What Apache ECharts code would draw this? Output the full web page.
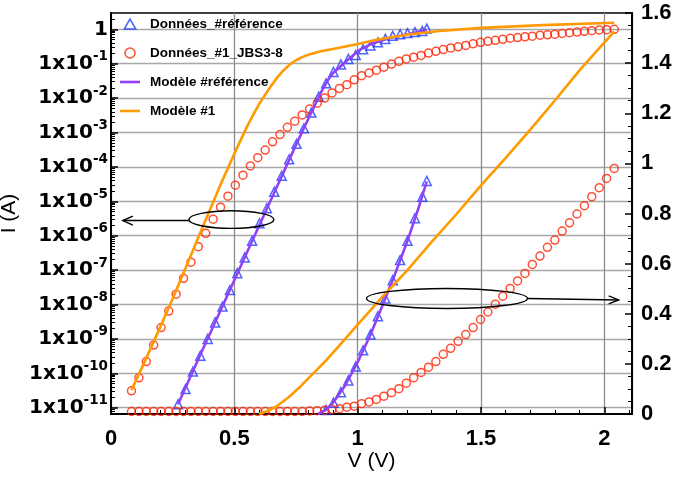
<!DOCTYPE html>
<html><head><meta charset="utf-8">
<script src="https://cdn.jsdelivr.net/npm/echarts@6/dist/echarts.min.js"></script>
<style>html,body{margin:0;padding:0;background:#fff}#c{width:676px;height:479px}</style>
</head><body><div id="c"></div>
<script>
// ---------- data (V in volts, I in amperes) ----------
const seriesNames = ['Données_#référence', 'Données_#1_JBS3-8', 'Modèle #référence', 'Modèle #1'];

// Données_#référence — log plot (left axis)
const refV = [0.272,0.302,0.332,0.362,0.392,0.422,0.452,0.482,0.512,0.542,0.572,0.602,0.632,0.662,0.692,0.722,0.752,0.782,0.812,0.842,0.872,0.902,0.932,0.962,0.992,1.022,1.052,1.082,1.112,1.142,1.172,1.202,1.232,1.262,1.280];
const refI = [1.26e-11,3.47e-11,1.12e-10,3.24e-10,1.0e-9,3.02e-9,8.71e-9,2.63e-8,8.13e-8,2.34e-7,7.08e-7,2.29e-6,6.31e-6,1.91e-5,5.50e-5,1.66e-4,4.68e-4,1.32e-3,3.80e-3,1.10e-2,2.69e-2,5.75e-2,9.55e-2,0.138,0.178,0.263,0.339,0.417,0.525,0.646,0.724,0.776,0.832,0.891,1.05];
// Données_#référence — linear plot (right axis)
const refLinV = [0.872,0.902,0.932,0.962,0.992,1.022,1.052,1.082,1.112,1.142,1.172,1.202,1.232,1.262,1.280];
const refLinI = [0.016,0.045,0.087,0.134,0.190,0.254,0.317,0.390,0.461,0.534,0.614,0.691,0.781,0.867,0.930];

// Données_#1_JBS3-8
const jbsV = [0.083,0.113,0.143,0.173,0.203,0.234,0.264,0.294,0.324,0.354,0.384,0.414,0.444,0.474,0.504,0.535,0.565,0.595,0.625,0.655,0.685,0.715,0.745,0.775,0.805,0.836,0.866,0.896,0.926,0.956,0.986,1.016,1.046,1.076,1.106,1.137,1.167,1.197,1.227,1.257,1.287,1.317,1.347,1.377,1.407,1.438,1.468,1.498,1.528,1.558,1.588,1.618,1.648,1.678,1.708,1.739,1.769,1.799,1.829,1.859,1.889,1.919,1.949,1.979,2.009,2.040];
const jbsI = [3.09e-11,7.41e-11,2.19e-10,6.61e-10,2.14e-9,6.46e-9,2.00e-8,5.75e-8,1.70e-7,4.79e-7,1.17e-6,3.02e-6,6.76e-6,1.41e-5,2.95e-5,5.75e-5,1.07e-4,1.86e-4,3.09e-4,5.37e-4,8.71e-4,1.41e-3,2.14e-3,3.24e-3,4.79e-3,7.08e-3,1.00e-2,1.41e-2,1.91e-2,2.45e-2,3.39e-2,4.47e-2,5.37e-2,6.46e-2,7.94e-2,9.77e-2,0.117,0.138,0.155,0.174,0.204,0.229,0.257,0.288,0.309,0.339,0.380,0.417,0.447,0.479,0.513,0.550,0.575,0.603,0.631,0.676,0.692,0.724,0.759,0.794,0.832,0.871,0.912,0.955,0.977,1.00];
const jbsLinI = [0.010,0.010,0.010,0.010,0.010,0.010,0.010,0.010,0.010,0.010,0.010,0.010,0.010,0.010,0.010,0.010,0.010,0.010,0.010,0.010,0.010,0.010,0.010,0.010,0.012,0.013,0.015,0.018,0.021,0.027,0.031,0.041,0.048,0.058,0.071,0.085,0.101,0.123,0.145,0.166,0.187,0.209,0.238,0.262,0.290,0.317,0.345,0.377,0.407,0.438,0.470,0.501,0.531,0.561,0.597,0.630,0.665,0.694,0.730,0.763,0.798,0.831,0.867,0.903,0.940,0.980];

// Modèle #référence
const mRefV = [0.272,0.35,0.45,0.55,0.65,0.75,0.80,0.85,0.88,0.90,0.93,0.97,1.01,1.06,1.13,1.20,1.28];
const mRefI = [1.26e-11,2.24e-10,8.32e-9,3.16e-7,1.17e-5,4.37e-4,2.51e-3,1.41e-2,3.39e-2,5.37e-2,8.32e-2,0.148,0.257,0.389,0.562,0.708,0.977];
const mRefLinV = [0.84,0.87,0.90,0.95,1.00,1.05,1.10,1.15,1.20,1.25,1.28];
const mRefLinI = [0.0,0.016,0.045,0.115,0.207,0.312,0.432,0.555,0.686,0.832,0.928];

// Modèle #1
const m1V = [0.083,0.15,0.20,0.25,0.30,0.35,0.40,0.45,0.50,0.525,0.55,0.575,0.60,0.625,0.65,0.675,0.70,0.725,0.75,0.775,0.80,0.85,0.90,0.95,1.00,1.06,1.13,1.20,1.33,1.50,1.75,2.04];
const m1I = [3.24e-11,3.55e-10,2.24e-9,1.48e-8,1.05e-7,7.59e-7,5.37e-6,3.80e-5,2.40e-4,5.89e-4,1.41e-3,3.16e-3,6.61e-3,1.26e-2,2.34e-2,4.07e-2,6.46e-2,9.55e-2,0.126,0.155,0.182,0.229,0.269,0.316,0.372,0.468,0.575,0.692,0.891,1.10,1.32,1.55];
const m1LinV = [0.60,0.63,0.67,0.72,0.77,0.82,0.87,0.92,1.00,1.10,1.20,1.30,1.40,1.50,1.60,1.70,1.80,1.90,2.04];
const m1LinI = [0.000,0.010,0.030,0.067,0.112,0.162,0.212,0.267,0.357,0.467,0.572,0.687,0.797,0.912,1.022,1.135,1.252,1.372,1.527];

// tick labels
const decadeExps = [-11,-10,-9,-8,-7,-6,-5,-4,-3,-2,-1,0];
const xTicks = [0, 0.5, 1, 1.5, 2];

// ---------- chart ----------
const FONT = '"Liberation Sans", Arial, Helvetica, sans-serif';
const FONT_W = '"DejaVu Sans", "Liberation Sans", sans-serif';
const LOG_MIN = -11.183, LOG_MAX = 0.474;
const C_BLUE = '#1f3cff', C_RED = '#ff2200', C_PURPLE = '#9140f5', C_ORANGE = '#ff9a00';
const ICON_TRI = 'path://M5,0L10,8.66L0,8.66Z';
const ICON_LINE = 'path://M0,0h20v2.6h-20z';

const lg = v => Math.log10(v);
const toLog = (xs, ys) => xs.map((x, i) => [x, lg(ys[i])]);
const toLin = (xs, ys) => xs.map((x, i) => [x, ys[i]]);

const minorLog = [];
for (let n = -12; n <= 0; n++) for (let k = 2; k <= 9; k++) {
  const v = n + Math.log10(k);
  if (v > LOG_MIN && v < LOG_MAX) minorLog.push(v);
}

const chart = echarts.init(document.getElementById('c'));

const scatterStyle = (color, symbol, size) => ({
  type: 'scatter', symbol: symbol, symbolSize: size,
  itemStyle: { color: 'rgba(255,255,255,0)', borderColor: color, borderWidth: 1.5 },
  emphasis: { disabled: true }, z: 3
});
const lineStyle = (color) => ({
  type: 'line', showSymbol: false, symbol: 'none', smooth: false,
  lineStyle: { color: color, width: 2.6 }, itemStyle: { color: color },
  emphasis: { disabled: true }, z: 4
});

const option = {
  animation: false,
  backgroundColor: '#fff',
  grid: { left: 111, right: 44, top: 13, bottom: 65, outerBoundsMode: 'none', containLabel: false,
    show: true, borderColor: '#000', borderWidth: 1.5, backgroundColor: 'rgba(0,0,0,0)' },
  legend: {
    orient: 'vertical', left: 115, top: 12, itemWidth: 20, itemHeight: 10, itemGap: 15,
    selectedMode: false, symbolKeepAspect: true,
    textStyle: { fontFamily: FONT, fontWeight: 'bold', fontSize: 13.5, color: '#000', padding: [0, 0, 0, 5] },
    data: [
      { name: seriesNames[0], icon: ICON_TRI, itemStyle: { color: 'rgba(255,255,255,0)', borderColor: C_BLUE, borderWidth: 1.5 } },
      { name: seriesNames[1], icon: 'circle', itemStyle: { color: 'rgba(255,255,255,0)', borderColor: C_RED, borderWidth: 1.5 } },
      { name: seriesNames[2], icon: ICON_LINE, itemStyle: { color: C_PURPLE, borderWidth: 0 } },
      { name: seriesNames[3], icon: ICON_LINE, itemStyle: { color: C_ORANGE, borderWidth: 0 } }
    ]
  },
  xAxis: {
    type: 'value', min: 0, max: 2.112, interval: 0.5,
    axisLine: { onZero: false, lineStyle: { color: '#000', width: 2 } },
    axisTick: { inside: true, length: 7, lineStyle: { color: '#000', width: 1.5 } },
    minorTick: { show: true, splitNumber: 5, length: 4, lineStyle: { color: '#000', width: 1 } },
    splitLine: { show: true, lineStyle: { color: '#8c8c8c', width: 1.3 } },
    axisLabel: { customValues: xTicks, fontFamily: FONT, fontWeight: 'bold', fontSize: 22, color: '#000', margin: 14 },
    name: 'V (V)', nameLocation: 'middle', nameGap: 37, nameMoveOverlap: false,
    nameTextStyle: { fontFamily: FONT, fontSize: 21, color: '#000' }
  },
  yAxis: [
    {
      type: 'value', min: LOG_MIN, max: LOG_MAX, minInterval: 1, maxInterval: 1, position: 'left',
      axisLine: { onZero: false, lineStyle: { color: '#000', width: 2 } },
      axisTick: { inside: true, length: 7, customValues: decadeExps, lineStyle: { color: '#000', width: 1.5 } },
      splitLine: { show: true, lineStyle: { color: '#a8a8a8', width: 1.3 } },
      axisLabel: {
        customValues: decadeExps, margin: 3,
        formatter: v => v === 0 ? '{b|1}' : '{b|1x10}{s|' + v + '}',
        rich: {
          b: { fontFamily: FONT_W, fontWeight: 'bold', fontSize: 20, color: '#000', lineHeight: 28 },
          s: { fontFamily: FONT_W, fontWeight: 'bold', fontSize: 13.5, color: '#000', lineHeight: 14, verticalAlign: 'top' }
        }
      },
      name: 'I (A)', nameLocation: 'middle', nameGap: 91, nameMoveOverlap: false,
      nameTextStyle: { fontFamily: FONT, fontSize: 21, color: '#000' }
    },
    {
      type: 'value', min: 0, max: 1.6, interval: 0.2, position: 'right',
      axisLine: { onZero: false, lineStyle: { color: '#000', width: 2 } },
      axisTick: { inside: true, length: 7, lineStyle: { color: '#000', width: 1.5 } },
      minorTick: { show: true, splitNumber: 4, length: 4, lineStyle: { color: '#000', width: 1 } },
      splitLine: { show: false },
      axisLabel: { fontFamily: FONT, fontWeight: 'bold', fontSize: 22, color: '#000', margin: 9,
        formatter: v => String(+v.toFixed(1)) }
    },
    {
      type: 'value', min: LOG_MIN, max: LOG_MAX, position: 'left',
      axisLine: { show: false, onZero: false },
      axisTick: { show: true, inside: true, length: 4, customValues: minorLog, lineStyle: { color: '#000', width: 1 } },
      axisLabel: { show: false }, splitLine: { show: false }
    }
  ],
  series: [
    Object.assign(scatterStyle(C_BLUE, 'triangle', 9), { name: seriesNames[0], yAxisIndex: 0, data: toLog(refV, refI) }),
    Object.assign(scatterStyle(C_BLUE, 'triangle', 9), { name: seriesNames[0], yAxisIndex: 1, data: toLin(refLinV, refLinI) }),
    Object.assign(scatterStyle(C_RED, 'circle', 8), { name: seriesNames[1], yAxisIndex: 0, data: toLog(jbsV, jbsI) }),
    Object.assign(scatterStyle(C_RED, 'circle', 8), { name: seriesNames[1], yAxisIndex: 1, data: toLin(jbsV, jbsLinI) }),
    Object.assign(lineStyle(C_PURPLE), { name: seriesNames[2], yAxisIndex: 0, data: toLog(mRefV, mRefI) }),
    Object.assign(lineStyle(C_PURPLE), { name: seriesNames[2], yAxisIndex: 1, data: toLin(mRefLinV, mRefLinI) }),
    Object.assign(lineStyle(C_ORANGE), { name: seriesNames[3], yAxisIndex: 0, data: toLog(m1V, m1I) }),
    Object.assign(lineStyle(C_ORANGE), { name: seriesNames[3], yAxisIndex: 1, data: toLin(m1LinV, m1LinI) })
  ]
};
chart.setOption(option);

// ---------- annotations (ellipses with arrows pointing to their axis) ----------
const px = (x, y, yi) => chart.convertToPixel({ xAxisIndex: 0, yAxisIndex: yi }, [x, y]);
const e1 = px(0.488, -5.53, 0), t1 = px(0.048, -5.53, 0);
const e2 = px(1.362, 0.461, 1), t2 = px(2.058, 0.455, 1);
const ann = { fill: 'none', stroke: '#000', lineWidth: 1.4 };
chart.setOption({
  graphic: [
    { type: 'ellipse', shape: { cx: e1[0], cy: e1[1], rx: 42.5, ry: 8.8 }, style: ann, z: 10 },
    { type: 'line', shape: { x1: e1[0] - 42.5, y1: e1[1] + 1, x2: t1[0], y2: t1[1] + 1 }, style: ann, z: 10 },
    { type: 'polyline', shape: { points: [[t1[0] + 10, t1[1] - 3.5], [t1[0], t1[1] + 1], [t1[0] + 10, t1[1] + 5.5]] }, style: ann, z: 10 },
    { type: 'ellipse', shape: { cx: e2[0], cy: e2[1], rx: 80.5, ry: 10 }, style: ann, z: 10 },
    { type: 'line', shape: { x1: e2[0] + 80.5, y1: e2[1], x2: t2[0], y2: t2[1] }, style: ann, z: 10 },
    { type: 'polyline', shape: { points: [[t2[0] - 10, t2[1] - 4], [t2[0], t2[1]], [t2[0] - 10, t2[1] + 4]] }, style: ann, z: 10 }
  ]
});
</script>
</body></html>
